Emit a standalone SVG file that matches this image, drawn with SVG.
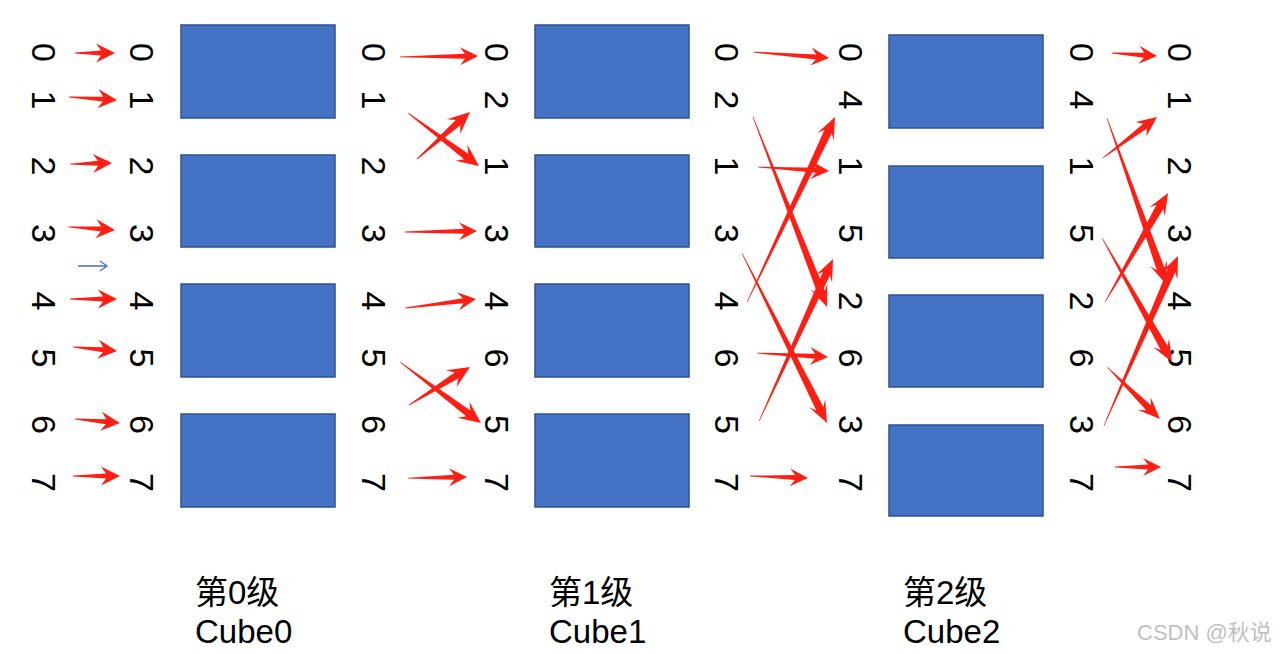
<svg xmlns="http://www.w3.org/2000/svg" width="1280" height="654" viewBox="0 0 1280 654">
<style>
.cube{fill:#4472C4;stroke:#2F528F;stroke-width:1.5}
.d{font-family:"Liberation Sans",Arial,sans-serif;font-size:34px;fill:#000;text-anchor:middle}
.lbl{font-family:"Liberation Sans","Noto Sans CJK SC",sans-serif;font-size:33px;fill:#000}
.wm{font-family:"Liberation Sans","Noto Sans CJK SC",sans-serif;font-size:22px;fill:#c0c0c0}
.ar{fill:#FF1E14}
</style>
<rect width="1280" height="654" fill="#fff"/>

<g id="cube0">
<rect class="cube" x="181" y="25" width="154" height="93"/>
<rect class="cube" x="181" y="155" width="154" height="92"/>
<rect class="cube" x="181" y="284" width="154" height="93"/>
<rect class="cube" x="181" y="414" width="154" height="93"/>
</g>
<g id="cube1">
<rect class="cube" x="535" y="25" width="154" height="93"/>
<rect class="cube" x="535" y="155" width="154" height="92"/>
<rect class="cube" x="535" y="284" width="154" height="93"/>
<rect class="cube" x="535" y="414" width="154" height="93"/>
</g>
<g id="cube2">
<rect class="cube" x="889" y="35" width="154" height="93"/>
<rect class="cube" x="889" y="166" width="154" height="92"/>
<rect class="cube" x="889" y="295" width="154" height="92"/>
<rect class="cube" x="889" y="425" width="154" height="91"/>
</g>

<g id="colA">
<text class="d" transform="translate(32,52.5) rotate(90)">0</text>
<text class="d" transform="translate(32,100) rotate(90)">1</text>
<text class="d" transform="translate(32,166) rotate(90)">2</text>
<text class="d" transform="translate(32,233.5) rotate(90)">3</text>
<text class="d" transform="translate(32,301) rotate(90)">4</text>
<text class="d" transform="translate(32,358) rotate(90)">5</text>
<text class="d" transform="translate(32,424.5) rotate(90)">6</text>
<text class="d" transform="translate(32,482.5) rotate(90)">7</text>
</g>
<g id="colB">
<text class="d" transform="translate(130,52.5) rotate(90)">0</text>
<text class="d" transform="translate(130,100) rotate(90)">1</text>
<text class="d" transform="translate(130,166) rotate(90)">2</text>
<text class="d" transform="translate(130,233.5) rotate(90)">3</text>
<text class="d" transform="translate(130,301) rotate(90)">4</text>
<text class="d" transform="translate(130,358) rotate(90)">5</text>
<text class="d" transform="translate(130,424.5) rotate(90)">6</text>
<text class="d" transform="translate(130,482.5) rotate(90)">7</text>
</g>
<g id="colC">
<text class="d" transform="translate(362,52.5) rotate(90)">0</text>
<text class="d" transform="translate(362,100) rotate(90)">1</text>
<text class="d" transform="translate(362,166) rotate(90)">2</text>
<text class="d" transform="translate(362,233.5) rotate(90)">3</text>
<text class="d" transform="translate(362,301) rotate(90)">4</text>
<text class="d" transform="translate(362,358) rotate(90)">5</text>
<text class="d" transform="translate(362,424.5) rotate(90)">6</text>
<text class="d" transform="translate(362,482.5) rotate(90)">7</text>
</g>
<g id="colD">
<text class="d" transform="translate(485,52.5) rotate(90)">0</text>
<text class="d" transform="translate(485,100) rotate(90)">2</text>
<text class="d" transform="translate(485,166) rotate(90)">1</text>
<text class="d" transform="translate(485,233.5) rotate(90)">3</text>
<text class="d" transform="translate(485,301) rotate(90)">4</text>
<text class="d" transform="translate(485,358) rotate(90)">6</text>
<text class="d" transform="translate(485,424.5) rotate(90)">5</text>
<text class="d" transform="translate(485,482.5) rotate(90)">7</text>
</g>
<g id="colE">
<text class="d" transform="translate(715,52.5) rotate(90)">0</text>
<text class="d" transform="translate(715,100) rotate(90)">2</text>
<text class="d" transform="translate(715,166) rotate(90)">1</text>
<text class="d" transform="translate(715,233.5) rotate(90)">3</text>
<text class="d" transform="translate(715,301) rotate(90)">4</text>
<text class="d" transform="translate(715,358) rotate(90)">6</text>
<text class="d" transform="translate(715,424.5) rotate(90)">5</text>
<text class="d" transform="translate(715,482.5) rotate(90)">7</text>
</g>
<g id="colF">
<text class="d" transform="translate(839,52.5) rotate(90)">0</text>
<text class="d" transform="translate(839,100) rotate(90)">4</text>
<text class="d" transform="translate(839,166) rotate(90)">1</text>
<text class="d" transform="translate(839,233.5) rotate(90)">5</text>
<text class="d" transform="translate(839,301) rotate(90)">2</text>
<text class="d" transform="translate(839,358) rotate(90)">6</text>
<text class="d" transform="translate(839,424.5) rotate(90)">3</text>
<text class="d" transform="translate(839,482.5) rotate(90)">7</text>
</g>
<g id="colG">
<text class="d" transform="translate(1070,52.5) rotate(90)">0</text>
<text class="d" transform="translate(1070,100) rotate(90)">4</text>
<text class="d" transform="translate(1070,166) rotate(90)">1</text>
<text class="d" transform="translate(1070,233.5) rotate(90)">5</text>
<text class="d" transform="translate(1070,301) rotate(90)">2</text>
<text class="d" transform="translate(1070,358) rotate(90)">6</text>
<text class="d" transform="translate(1070,424.5) rotate(90)">3</text>
<text class="d" transform="translate(1070,482.5) rotate(90)">7</text>
</g>
<g id="colH">
<text class="d" transform="translate(1168,52.5) rotate(90)">0</text>
<text class="d" transform="translate(1168,100) rotate(90)">1</text>
<text class="d" transform="translate(1168,166) rotate(90)">2</text>
<text class="d" transform="translate(1168,233.5) rotate(90)">3</text>
<text class="d" transform="translate(1168,301) rotate(90)">4</text>
<text class="d" transform="translate(1168,358) rotate(90)">5</text>
<text class="d" transform="translate(1168,424.5) rotate(90)">6</text>
<text class="d" transform="translate(1168,482.5) rotate(90)">7</text>
</g>

<g id="connectors">
<!-- stage 0 -->
<polygon class="ar" transform="translate(115,53) rotate(0)" points="0,0 -19,-9.5 -14,-2.5 -40,-0.4 -40,0.4 -14,2.5 -19,9.5"/>
<polygon class="ar" transform="translate(117,100) rotate(3.6)" points="0,0 -19,-9.5 -14,-2.5 -48,-0.4 -48,0.4 -14,2.5 -19,9.5"/>
<polygon class="ar" transform="translate(112,163) rotate(-1.4)" points="0,0 -19,-9.5 -14,-2.5 -42,-0.4 -42,0.4 -14,2.5 -19,9.5"/>
<polygon class="ar" transform="translate(115,230) rotate(3.7)" points="0,0 -19,-9.5 -14,-2.5 -47,-0.4 -47,0.4 -14,2.5 -19,9.5"/>
<polygon class="ar" transform="translate(117,299) rotate(0)" points="0,0 -19,-9.5 -14,-2.5 -47,-0.4 -47,0.4 -14,2.5 -19,9.5"/>
<polygon class="ar" transform="translate(117,351) rotate(5.2)" points="0,0 -19,-9.5 -14,-2.5 -44,-0.4 -44,0.4 -14,2.5 -19,9.5"/>
<polygon class="ar" transform="translate(120,423) rotate(5.1)" points="0,0 -19,-9.5 -14,-2.5 -45,-0.4 -45,0.4 -14,2.5 -19,9.5"/>
<polygon class="ar" transform="translate(120,476) rotate(0)" points="0,0 -19,-9.5 -14,-2.5 -47,-0.4 -47,0.4 -14,2.5 -19,9.5"/>
<path d="M78,266 H107 M100,261 L107,266 L100,271" fill="none" stroke="#4472C4" stroke-width="1.3"/>
<!-- stage 1 -->
<polygon class="ar" transform="translate(478,56) rotate(-0.7)" points="0,0 -18,-9 -13,-2.5 -78,-0.4 -78,0.4 -13,2.5 -18,9"/>
<polygon class="ar" transform="translate(479,166) rotate(36.7)" points="0,0 -22,-10 -16,-3.5 -88,-0.4 -88,0.4 -16,3.5 -22,10"/>
<polygon class="ar" transform="translate(470,112) rotate(-41.6)" points="0,0 -22,-10 -16,-3.5 -71,-0.4 -71,0.4 -16,3.5 -22,10"/>
<polygon class="ar" transform="translate(477,231) rotate(-0.8)" points="0,0 -18,-9 -13,-2.5 -72,-0.4 -72,0.4 -13,2.5 -18,9"/>
<polygon class="ar" transform="translate(476,299) rotate(-7.3)" points="0,0 -18,-9 -13,-2.5 -71,-0.4 -71,0.4 -13,2.5 -18,9"/>
<polygon class="ar" transform="translate(481,423) rotate(37)" points="0,0 -22,-10 -16,-3.5 -101,-0.4 -101,0.4 -16,3.5 -22,10"/>
<polygon class="ar" transform="translate(470,367) rotate(-31.9)" points="0,0 -22,-10 -16,-3.5 -72,-0.4 -72,0.4 -16,3.5 -22,10"/>
<polygon class="ar" transform="translate(467,477) rotate(-1)" points="0,0 -18,-9 -13,-2.5 -59,-0.4 -59,0.4 -13,2.5 -18,9"/>
<!-- stage 2 -->
<polygon class="ar" transform="translate(829,58) rotate(4.5)" points="0,0 -18,-9 -13,-2.5 -76,-0.4 -76,0.4 -13,2.5 -18,9"/>
<polygon class="ar" transform="translate(827,307) rotate(68.7)" points="0,0 -22,-9 -16,-4 -204,-0.3 -204,0.3 -16,4 -22,9"/>
<polygon class="ar" transform="translate(829,171) rotate(3.2)" points="0,0 -18,-9 -13,-2.5 -71,-0.4 -71,0.4 -13,2.5 -18,9"/>
<polygon class="ar" transform="translate(827,423) rotate(63.4)" points="0,0 -22,-9 -16,-4 -190,-0.3 -190,0.3 -16,4 -22,9"/>
<polygon class="ar" transform="translate(835,117) rotate(-64.6)" points="0,0 -22,-9 -16,-4 -205,-0.3 -205,0.3 -16,4 -22,9"/>
<polygon class="ar" transform="translate(828,357) rotate(3.2)" points="0,0 -18,-9 -13,-2.5 -71,-0.4 -71,0.4 -13,2.5 -18,9"/>
<polygon class="ar" transform="translate(833,259) rotate(-65.5)" points="0,0 -22,-9 -16,-4 -178,-0.3 -178,0.3 -16,4 -22,9"/>
<polygon class="ar" transform="translate(808,478) rotate(2)" points="0,0 -18,-9 -13,-2.5 -58,-0.4 -58,0.4 -13,2.5 -18,9"/>
<!-- stage 3 -->
<polygon class="ar" transform="translate(1157,56) rotate(3.8)" points="0,0 -18,-9 -13,-2.5 -45,-0.4 -45,0.4 -13,2.5 -18,9"/>
<polygon class="ar" transform="translate(1166,284) rotate(70.4)" points="0,0 -22,-9 -16,-4 -176,-0.3 -176,0.3 -16,4 -22,9"/>
<polygon class="ar" transform="translate(1157,117) rotate(-37.2)" points="0,0 -20,-9 -15,-3 -68,-0.3 -68,0.3 -15,3 -20,9"/>
<polygon class="ar" transform="translate(1172,362) rotate(60.6)" points="0,0 -22,-9 -16,-4 -142,-0.3 -142,0.3 -16,4 -22,9"/>
<polygon class="ar" transform="translate(1168,193) rotate(-60)" points="0,0 -22,-9 -16,-4 -126,-0.3 -126,0.3 -16,4 -22,9"/>
<polygon class="ar" transform="translate(1160,419) rotate(44.5)" points="0,0 -22,-9 -16,-3.5 -74,-0.3 -74,0.3 -16,3.5 -22,9"/>
<polygon class="ar" transform="translate(1178,256) rotate(-66.4)" points="0,0 -22,-9 -16,-4 -185,-0.3 -185,0.3 -16,4 -22,9"/>
<polygon class="ar" transform="translate(1161,467) rotate(0)" points="0,0 -18,-9 -13,-2.5 -46,-0.4 -46,0.4 -13,2.5 -18,9"/>
</g>

<g id="labels">
<text class="lbl" x="195" y="604">第0级</text>
<text class="lbl" x="195" y="643">Cube0</text>
<text class="lbl" x="549" y="604">第1级</text>
<text class="lbl" x="549" y="643">Cube1</text>
<text class="lbl" x="903" y="604">第2级</text>
<text class="lbl" x="903" y="643">Cube2</text>
<text class="wm" x="1137" y="640">CSDN @秋说</text>
</g>
</svg>
